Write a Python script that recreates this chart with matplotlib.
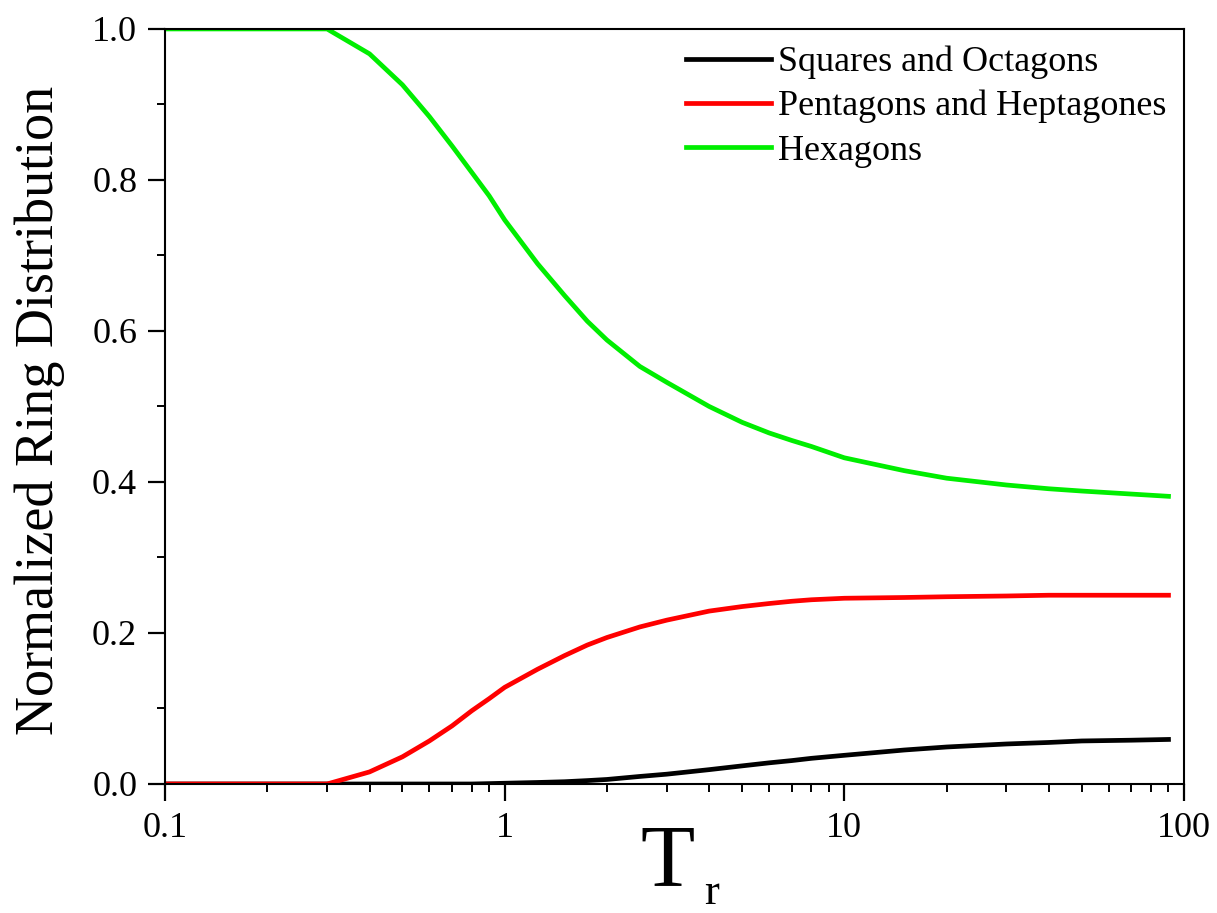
import matplotlib
matplotlib.use("Agg")
import matplotlib.pyplot as plt
from matplotlib.ticker import FixedLocator, FixedFormatter, MultipleLocator, LogLocator, NullFormatter

plt.rcParams["font.family"] = ["Liberation Serif", "DejaVu Serif"]

# reduced temperature
t_r = [0.1, 0.2, 0.3, 0.4, 0.5, 0.6, 0.7, 0.8, 0.9, 1.0, 1.25, 1.5, 1.75, 2.0, 2.5, 3.0,
       4.0, 5.0, 6.0, 7.0, 8.0, 10.0, 15.0, 20.0, 30.0, 40.0, 50.0, 70.0, 90.0]

squares_octagons = [0, 0, 0, 0, 0, 0, 0, 0, 0.0005, 0.001, 0.002, 0.003, 0.0045, 0.006,
                    0.010, 0.013, 0.019, 0.024, 0.028, 0.031, 0.034, 0.038, 0.045, 0.049,
                    0.053, 0.055, 0.057, 0.058, 0.059]
pentagons_heptagons = [0, 0, 0, 0.016, 0.036, 0.057, 0.077, 0.097, 0.113, 0.128, 0.152,
                       0.170, 0.184, 0.194, 0.208, 0.217, 0.229, 0.235, 0.239, 0.242,
                       0.244, 0.246, 0.247, 0.248, 0.249, 0.250, 0.250, 0.250, 0.250]
hexagons = [1.0, 1.0, 1.0, 0.967, 0.926, 0.884, 0.845, 0.810, 0.779, 0.747, 0.689, 0.647,
            0.613, 0.588, 0.553, 0.532, 0.500, 0.479, 0.465, 0.455, 0.447, 0.432, 0.415,
            0.405, 0.396, 0.391, 0.388, 0.384, 0.381]

x_ticks = [0.1, 1, 10, 100]
x_tick_labels = ["0.1", "1", "10", "100"]

fig = plt.figure(figsize=(12.17, 9.13), dpi=100)
ax = fig.add_axes([0.1356, 0.1413, 0.8373, 0.8270])

ax.plot(t_r, squares_octagons, color="black", lw=3.4, label="Squares and Octagons")
ax.plot(t_r, pentagons_heptagons, color="#ff0000", lw=3.4, label="Pentagons and Heptagones")
ax.plot(t_r, hexagons, color="#00ee00", lw=3.4, label="Hexagons")

ax.set_xscale("log")
ax.set_xlim(0.1, 100)
ax.set_ylim(0, 1.0)
ax.xaxis.set_major_locator(FixedLocator(x_ticks))
ax.xaxis.set_major_formatter(FixedFormatter(x_tick_labels))
ax.xaxis.set_minor_locator(LogLocator(base=10, subs=range(2, 10)))
ax.xaxis.set_minor_formatter(NullFormatter())
ax.yaxis.set_major_locator(MultipleLocator(0.2))
ax.yaxis.set_minor_locator(MultipleLocator(0.1))
ax.yaxis.set_major_formatter(plt.FuncFormatter(lambda v, p: f"{v:.1f}"))

ax.tick_params(which="major", direction="out", length=12, width=1.6, labelsize=26, pad=8,
               top=False, right=False)
ax.tick_params(which="minor", direction="out", length=6, width=1.4, top=False, right=False)
for sp in ax.spines.values():
    sp.set_linewidth(1.5)

ax.set_ylabel("Normalized Ring Distribution", fontsize=39)
ax.yaxis.set_label_coords(-0.098, 0.495)

# x label: big T with a low subscript r
fig.text(668 / 1217, 1 - 885 / 913, "T", fontsize=64, ha="center", va="baseline")
fig.text(712 / 1217, 0.0, "r", fontsize=32, ha="center", va="bottom")

ax.legend(loc="upper right", frameon=False, fontsize=26, handlelength=2.35,
          handletextpad=0.2, labelspacing=0.3, borderaxespad=0.0,
          bbox_to_anchor=(0.997, 0.997))

fig.savefig("out.png", dpi=100)
